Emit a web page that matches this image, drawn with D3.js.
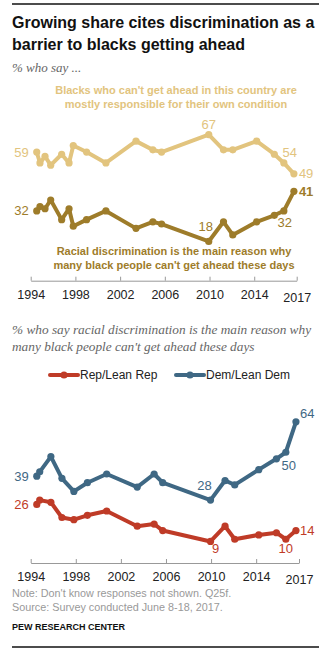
<!DOCTYPE html>
<html>
<head>
<meta charset="utf-8">
<script src="https://cdn.jsdelivr.net/npm/d3@7"></script>
<style>
  body { margin: 0; background: #fff; }
  svg { display: block; }
  .sans { font-family: "Liberation Sans", Arial, sans-serif; }
  .serif-it { font-family: "Liberation Serif", Georgia, serif; font-style: italic; }
</style>
</head>
<body>
<div id="chart"></div>
<script>
// Survey dates (decimal years) for the top chart
const surveyYears = [1994.54, 1994.83, 1995.28, 1995.79, 1996.77, 1997.43, 1997.81, 1999.0, 2000.73,
  2003.42, 2004.93, 2005.71, 2009.93, 2011.25, 2012.08, 2014.22, 2015.8, 2016.65, 2017.55];
// % saying blacks who can't get ahead are mostly responsible for their own condition
const responsible = [59, 54, 57, 53, 58, 54, 62, 59, 54, 64, 60, 59, 67, 60, 60, 64, 58, 54, 49];
// % saying racial discrimination is the main reason
const discrimination = [32, 34, 33, 37, 28, 33, 25, 28, 32, 24, 27, 26, 18, 27, 21, 27, 30, 32, 41];

// Partisan breakdown (fewer survey points)
const partyYears = [1994.54, 1994.8, 1995.79, 1996.77, 1997.83, 1999.03, 2000.74, 2003.45, 2004.95,
  2005.71, 2009.95, 2011.24, 2012.1, 2014.23, 2015.8, 2016.63, 2017.53];
const repLean = [26, 28, 27, 20, 19, 21, 23, 16, 17, 14, 9, 16, 10, 12, 13, 10, 14];
const demLean = [39, 41, 48, 38, 32, 36, 40, 34, 40, 36, 28, 37, 35, 42, 47, 50, 64];

const tickYears = [1994, 1998, 2002, 2006, 2010, 2014, 2017.8];
const tickLabels = ["1994", "1998", "2002", "2006", "2010", "2014", "2017"];

const colors = {
  light: "#e2c47e",
  dark: "#9e7c2a",
  rep: "#bf3b27",
  dem: "#3f6884",
  text: "#222",
  grey: "#8a8a8a"
};

const width = 333, height = 660;
const svg = d3.select("#chart").append("svg")
  .attr("width", width)
  .attr("height", height);

// Top and bottom rules
svg.append("line").attr("x1", 12).attr("x2", 319).attr("y1", 4).attr("y2", 4)
  .attr("stroke", "#111").attr("stroke-width", 1.5);
svg.append("line").attr("x1", 12).attr("x2", 319).attr("y1", 647).attr("y2", 647)
  .attr("stroke", "#111").attr("stroke-width", 1.5);

// Title
const title = svg.append("text").attr("class", "sans")
  .attr("x", 12).attr("y", 28)
  .style("font-size", "16px").style("font-weight", "bold").style("fill", "#111");
title.append("tspan").attr("x", 12).attr("y", 28).text("Growing share cites discrimination as a");
title.append("tspan").attr("x", 12).attr("y", 50).text("barrier to blacks getting ahead");

svg.append("text").attr("class", "serif-it")
  .attr("x", 12).attr("y", 72)
  .style("font-size", "13px").style("fill", "#666")
  .text("% who say ...");

// ---------- helpers ----------
function drawAxis(g, x, y0) {
  const axis = d3.axisBottom(x)
    .tickValues(tickYears)
    .tickFormat((d, i) => tickLabels[i])
    .tickSizeInner(-4)
    .tickSizeOuter(0)
    .tickPadding(9);
  const ax = g.append("g")
    .attr("transform", `translate(0, ${y0})`)
    .call(axis);
  ax.select(".domain").attr("stroke", "#999");
  ax.selectAll(".tick line").attr("stroke", "#999");
  ax.selectAll(".tick text")
    .attr("class", "sans")
    .style("font-size", "12.5px")
    .style("fill", colors.text)
    .attr("dy", (d, i) => i === tickYears.length - 1 ? "0.95em" : "0.71em");
}

function drawSeries(g, x, y, years, values, color) {
  const data = years.map((yr, i) => ({ year: yr, value: values[i] }));
  const line = d3.line().x(d => x(d.year)).y(d => y(d.value));
  g.append("path")
    .datum(data)
    .attr("d", line)
    .attr("fill", "none")
    .attr("stroke", color)
    .attr("stroke-width", 4)
    .attr("stroke-linejoin", "round");
  g.selectAll(null)
    .data(data)
    .enter()
    .append("circle")
    .attr("cx", d => x(d.year))
    .attr("cy", d => y(d.value))
    .attr("r", 3.6)
    .attr("fill", color);
}

function label(g, x, y, text, color, anchor, opts = {}) {
  g.append("text")
    .attr("class", "sans")
    .attr("x", x).attr("y", y)
    .attr("text-anchor", anchor)
    .attr("dy", "0.35em")
    .style("font-size", opts.size || "13px")
    .style("font-weight", opts.bold ? "bold" : "normal")
    .style("fill", color)
    .text(text);
}

// ---------- top chart ----------
const xTop = d3.scaleLinear().domain([1994, 2017.8]).range([30.7, 296.7]);
const yTop = d3.scaleLinear().domain([0, 67]).range([280.7, 134.6]);
const topG = svg.append("g");

const respLabel = topG.append("text").attr("class", "sans")
  .attr("text-anchor", "middle")
  .style("font-size", "11px").style("font-weight", "bold").style("fill", colors.light);
respLabel.append("tspan").attr("x", 176).attr("y", 94).text("Blacks who can't get ahead in this country are");
respLabel.append("tspan").attr("x", 176).attr("y", 108).text("mostly responsible for their own condition");

drawSeries(topG, xTop, yTop, surveyYears, responsible, colors.light);
drawSeries(topG, xTop, yTop, surveyYears, discrimination, colors.dark);

const last = surveyYears.length - 1;
label(topG, xTop(surveyYears[0]) - 8, yTop(responsible[0]), responsible[0], colors.light, "end");
label(topG, xTop(surveyYears[12]), yTop(responsible[12]) - 10, responsible[12], colors.light, "middle");
label(topG, xTop(surveyYears[17]) + 6, yTop(responsible[17]) - 10, responsible[17], colors.light, "middle");
label(topG, xTop(surveyYears[last]) + 5, yTop(responsible[last]), responsible[last], colors.light, "start");

label(topG, xTop(surveyYears[0]) - 8, yTop(discrimination[0]), discrimination[0], colors.dark, "end");
label(topG, xTop(surveyYears[12]) - 3, yTop(discrimination[12]) - 15, discrimination[12], colors.dark, "middle");
label(topG, xTop(surveyYears[17]) + 1, yTop(discrimination[17]) + 12, discrimination[17], colors.dark, "middle");
label(topG, xTop(surveyYears[last]) + 5, yTop(discrimination[last]), discrimination[last], colors.dark, "start", { bold: true });

const discLabel = topG.append("text").attr("class", "sans")
  .attr("text-anchor", "middle")
  .style("font-size", "11px").style("font-weight", "bold").style("fill", colors.dark);
discLabel.append("tspan").attr("x", 174).attr("y", 255).text("Racial discrimination is the main reason why");
discLabel.append("tspan").attr("x", 174).attr("y", 269).text("many black people  can't get ahead these days");

drawAxis(topG, xTop, 280.7);

// ---------- bottom chart ----------
const sub2 = svg.append("text").attr("class", "serif-it")
  .style("font-size", "13.3px").style("fill", "#666");
sub2.append("tspan").attr("x", 12).attr("y", 334).text("% who say racial discrimination is the main reason why");
sub2.append("tspan").attr("x", 12).attr("y", 351).text("many black people can't get ahead these days");

// legend
const legend = [
  { name: "Rep/Lean Rep", color: colors.rep, x: 50 },
  { name: "Dem/Lean Dem", color: colors.dem, x: 176 }
];
const lg = svg.append("g").attr("transform", "translate(0, 375)");
legend.forEach(d => {
  lg.append("line").attr("x1", d.x).attr("x2", d.x + 28).attr("y1", 0).attr("y2", 0)
    .attr("stroke", d.color).attr("stroke-width", 4).attr("stroke-linecap", "round");
  lg.append("circle").attr("cx", d.x + 14).attr("cy", 0).attr("r", 3.6).attr("fill", d.color);
  lg.append("text").attr("class", "sans")
    .attr("x", d.x + 30).attr("y", 0).attr("dy", "0.35em")
    .style("font-size", "12px").style("fill", colors.text)
    .text(d.name);
});

const xBot = d3.scaleLinear().domain([1994, 2017.8]).range([30.7, 299]);
const yBot = d3.scaleLinear().domain([0, 64]).range([561, 421.8]);
const botG = svg.append("g");

drawSeries(botG, xBot, yBot, partyYears, demLean, colors.dem);
drawSeries(botG, xBot, yBot, partyYears, repLean, colors.rep);

const pl = partyYears.length - 1;
label(botG, xBot(partyYears[0]) - 8, yBot(demLean[0]), demLean[0], colors.dem, "end");
label(botG, xBot(partyYears[10]) - 6, yBot(demLean[10]) - 15, demLean[10], colors.dem, "middle");
label(botG, xBot(partyYears[15]) + 3, yBot(demLean[15]) + 13, demLean[15], colors.dem, "middle");
label(botG, xBot(partyYears[pl]) + 4, yBot(demLean[pl]) - 8, demLean[pl], colors.dem, "start");

label(botG, xBot(partyYears[0]) - 8, yBot(repLean[0]), repLean[0], colors.rep, "end");
label(botG, xBot(partyYears[10]) + 5, yBot(repLean[10]) + 7, repLean[10], colors.rep, "middle");
label(botG, xBot(partyYears[15]) + 0, yBot(repLean[15]) + 9, repLean[15], colors.rep, "middle");
label(botG, xBot(partyYears[pl]) + 4, yBot(repLean[pl]), repLean[pl], colors.rep, "start");

drawAxis(botG, xBot, 563);

// ---------- notes ----------
const notes = svg.append("text").attr("class", "sans")
  .style("font-size", "10.8px").style("fill", "#999");
notes.append("tspan").attr("x", 12).attr("y", 597).text("Note: Don't know responses not shown. Q25f.");
notes.append("tspan").attr("x", 12).attr("y", 611).text("Source: Survey conducted June 8-18, 2017.");

svg.append("text").attr("class", "sans")
  .attr("x", 12).attr("y", 630)
  .style("font-size", "9px").style("font-weight", "bold").style("fill", "#111")
  .text("PEW RESEARCH CENTER");
</script>
</body>
</html>
